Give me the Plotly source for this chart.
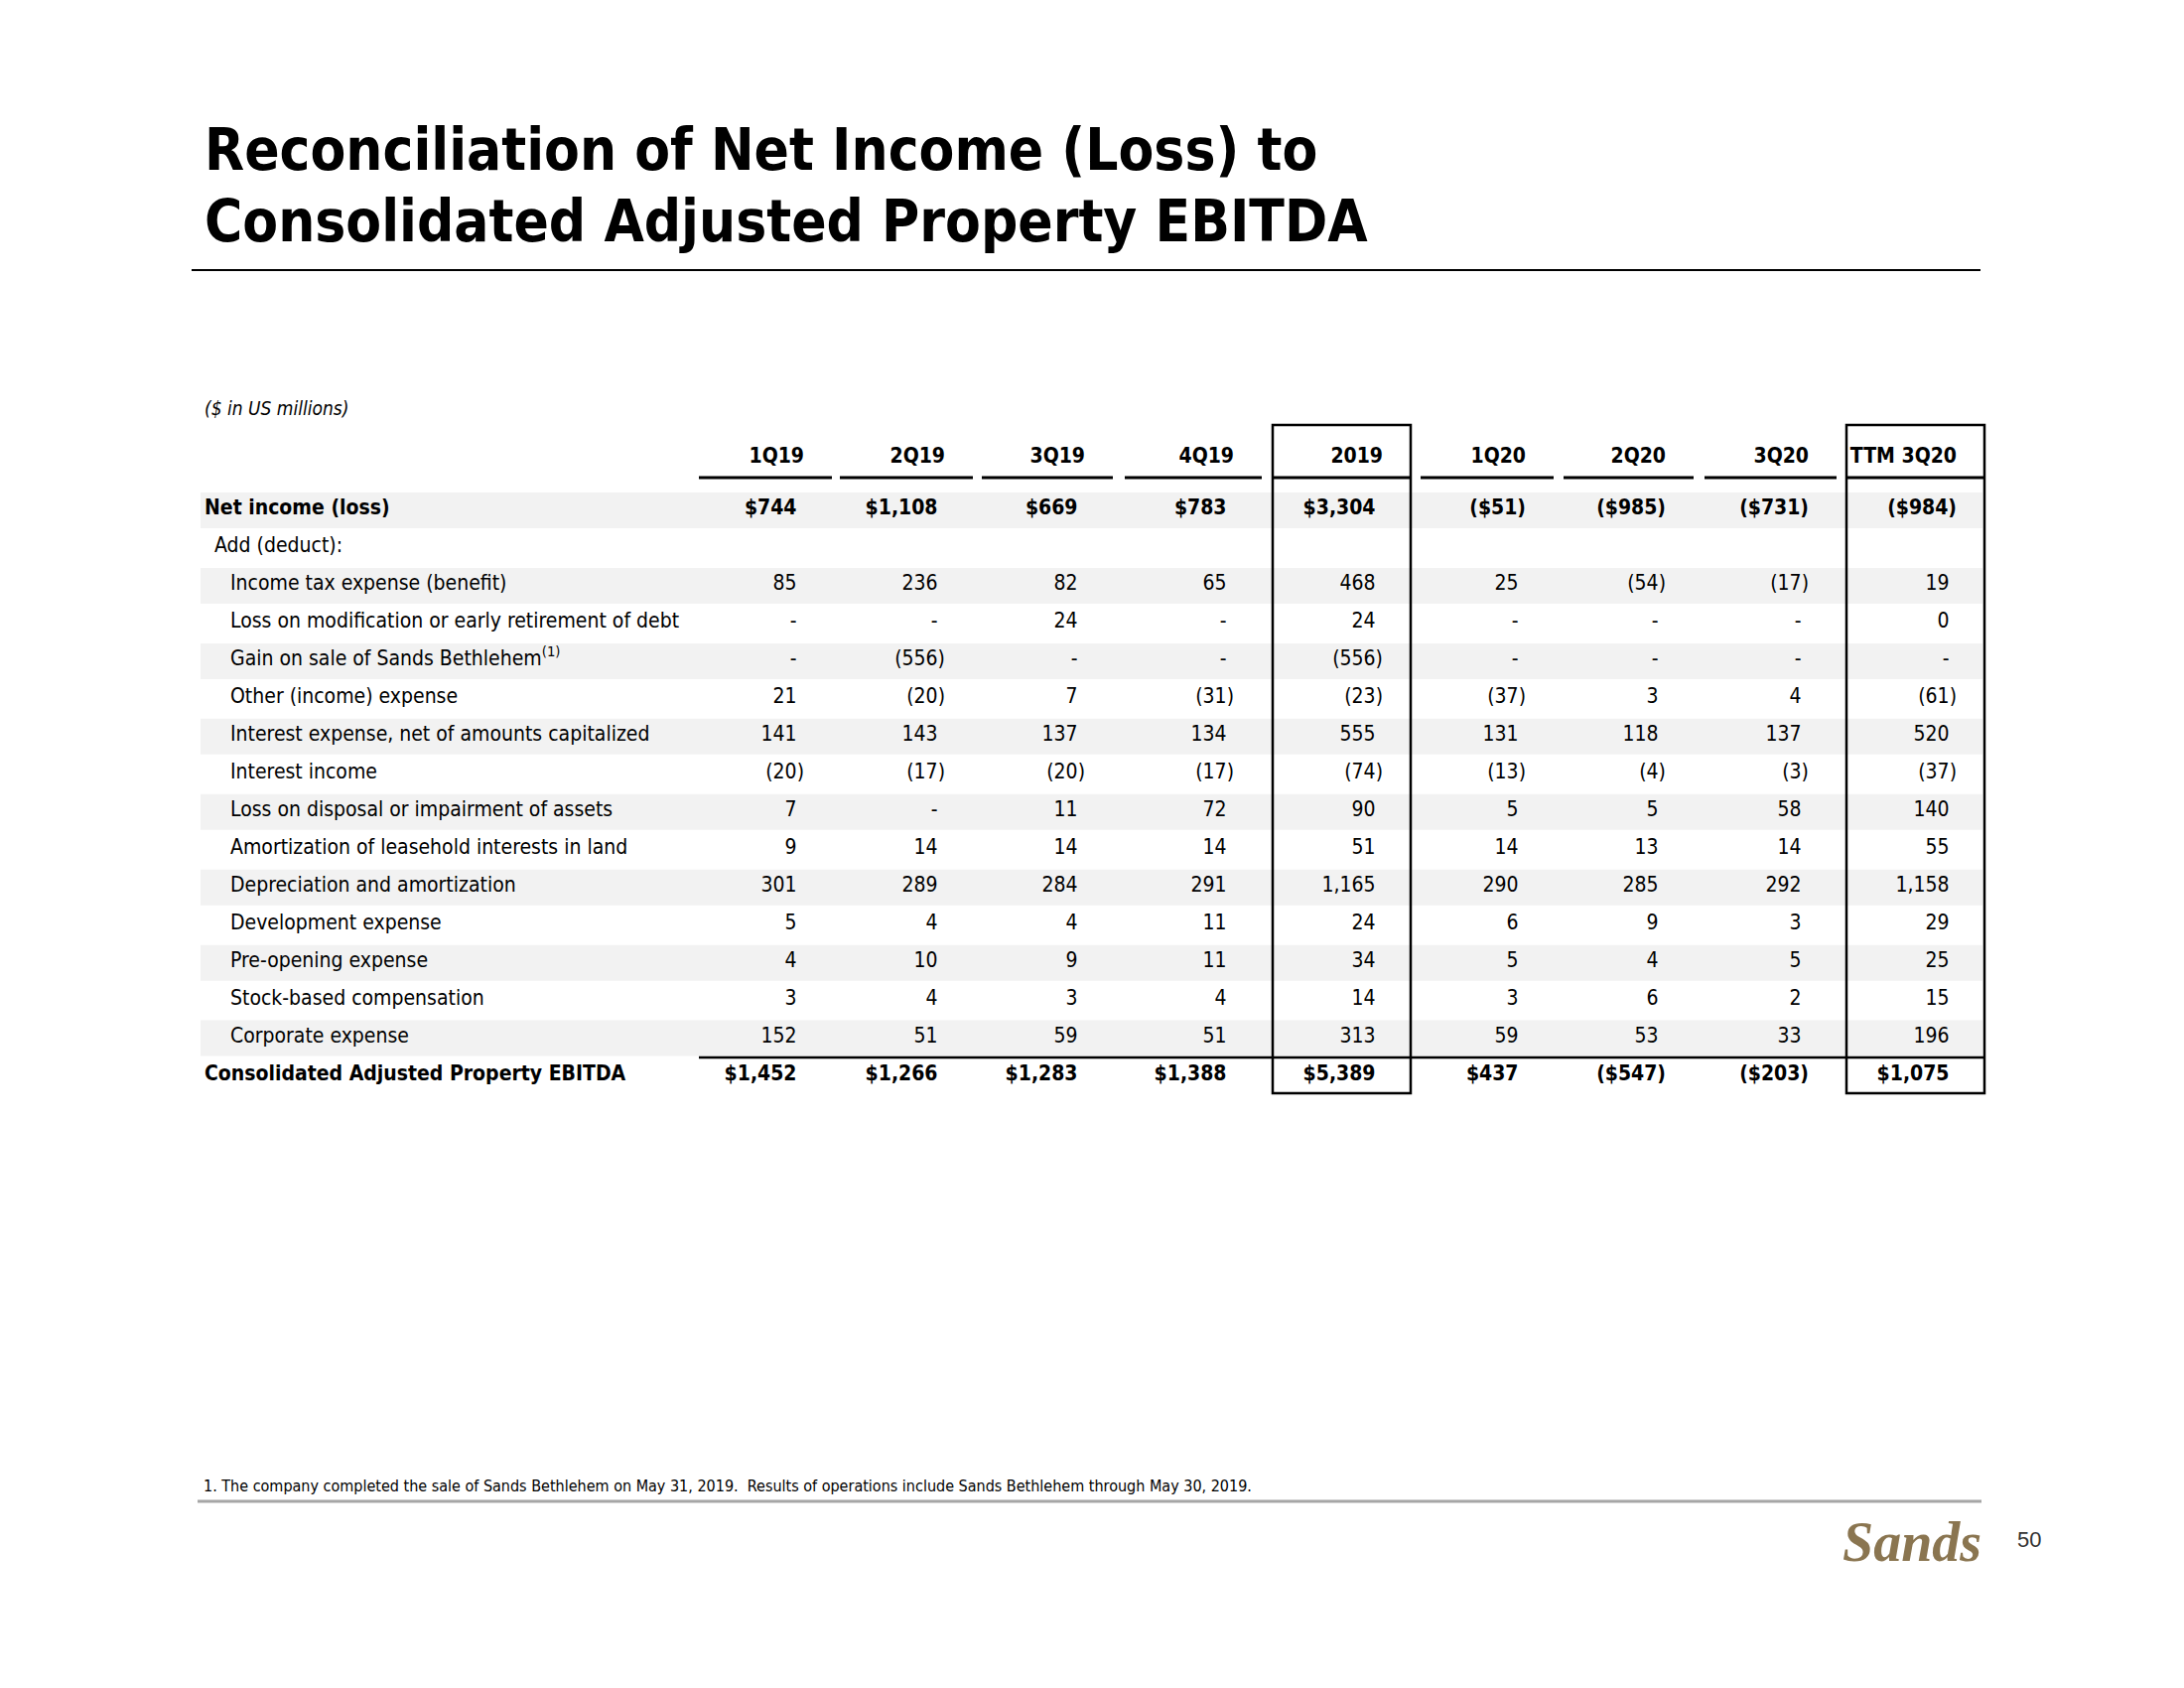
import plotly.graph_objects as go

# ---------------- data ----------------
columns = ["1Q19", "2Q19", "3Q19", "4Q19", "2019", "1Q20", "2Q20", "3Q20", "TTM 3Q20"]

row_labels = [
    "Net income (loss)",
    "Add (deduct):",
    "Income tax expense (benefit)",
    "Loss on modification or early retirement of debt",
    "Gain on sale of Sands Bethlehem<sup>(1)</sup>",
    "Other (income) expense",
    "Interest expense, net of amounts capitalized",
    "Interest income",
    "Loss on disposal or impairment of assets",
    "Amortization of leasehold interests in land",
    "Depreciation and amortization",
    "Development expense",
    "Pre-opening expense",
    "Stock-based compensation",
    "Corporate expense",
    "Consolidated Adjusted Property EBITDA",
]
row_kind = ["total", "section"] + ["item"] * 13 + ["total"]
row_indent = [0, 1] + [2] * 13 + [0]

net_income = [744, 1108, 669, 783, 3304, -51, -985, -731, -984]
add_deduct = [None] * 9
income_tax = [85, 236, 82, 65, 468, 25, -54, -17, 19]
loss_modification = [None, None, 24, None, 24, None, None, None, 0]
gain_bethlehem = [None, -556, None, None, -556, None, None, None, None]
other_income = [21, -20, 7, -31, -23, -37, 3, 4, -61]
interest_expense = [141, 143, 137, 134, 555, 131, 118, 137, 520]
interest_income = [-20, -17, -20, -17, -74, -13, -4, -3, -37]
loss_disposal = [7, None, 11, 72, 90, 5, 5, 58, 140]
amort_leasehold = [9, 14, 14, 14, 51, 14, 13, 14, 55]
depreciation = [301, 289, 284, 291, 1165, 290, 285, 292, 1158]
development = [5, 4, 4, 11, 24, 6, 9, 3, 29]
pre_opening = [4, 10, 9, 11, 34, 5, 4, 5, 25]
stock_comp = [3, 4, 3, 4, 14, 3, 6, 2, 15]
corporate = [152, 51, 59, 51, 313, 59, 53, 33, 196]
ebitda = [1452, 1266, 1283, 1388, 5389, 437, -547, -203, 1075]

row_values = [net_income, add_deduct, income_tax, loss_modification, gain_bethlehem,
              other_income, interest_expense, interest_income, loss_disposal,
              amort_leasehold, depreciation, development, pre_opening, stock_comp,
              corporate, ebitda]

boxed_columns = ["2019", "TTM 3Q20"]

title_lines = ["Reconciliation of Net Income (Loss) to", "Consolidated Adjusted Property EBITDA"]
units_note = "($ in US millions)"
footnote = ("1. The company completed the sale of Sands Bethlehem on May 31, 2019.  "
            "Results of operations include Sands Bethlehem through May 30, 2019.")
page_number = "50"

# ---------------- layout constants ----------------
PAGE_MARGIN = 8          # default body margin of the html page
W, H = 2200, 1700
NARROW = "Liberation Sans Narrow, Arial Narrow, DejaVu Sans Condensed, sans-serif"
SANS = "Liberation Sans, Arial, sans-serif"
col_left = [704, 846, 989, 1133, 1282, 1431, 1575, 1717, 1860]
col_right = [838, 980, 1121, 1271, 1421, 1565, 1706, 1850, 1999]
neg_pad, pos_pad = 28, 35.5
row_y0, row_pitch = 513, 37.97
header_y = 461
indent_x = [206, 216, 232]
BODY = 21
SHADE = "#F2F2F2"


def fmt(v, dollar):
    if v is None:
        return "-"
    s = f"{abs(v):,}"
    if dollar:
        s = "$" + s
    return f"({s})" if v < 0 else s


fig = go.Figure()
shapes = []

row_y = [row_y0 + i * row_pitch for i in range(len(row_labels))]

# shading bands
for i, y in enumerate(row_y):
    if i % 2 == 0 and i < len(row_labels) - 1:
        shapes.append(dict(type="rect", xref="x", yref="y", x0=202, x1=1997,
                           y0=y - 17, y1=y + 19, fillcolor=SHADE, line=dict(width=0),
                           layer="below"))

# labels
for kind in ["total", "other"]:
    xs, ys, ts = [], [], []
    for i, lab in enumerate(row_labels):
        if (row_kind[i] == "total") != (kind == "total"):
            continue
        xs.append(indent_x[row_indent[i]])
        ys.append(row_y[i])
        ts.append(f"<b>{lab}</b>" if kind == "total" else lab)
    fig.add_trace(go.Scatter(x=xs, y=ys, text=ts, mode="text", textposition="middle right",
                             textfont=dict(family=NARROW, size=BODY, color="#000000"),
                             hoverinfo="skip", showlegend=False))

# values
for kind in ["total", "item"]:
    xs, ys, ts = [], [], []
    for i, vals in enumerate(row_values):
        if row_kind[i] != kind:
            continue
        for j, v in enumerate(vals):
            xs.append(col_right[j] - (neg_pad if (v is not None and v < 0) else pos_pad))
            ys.append(row_y[i])
            t = fmt(v, kind == "total")
            ts.append(f"<b>{t}</b>" if kind == "total" else t)
    fig.add_trace(go.Scatter(x=xs, y=ys, text=ts, mode="text", textposition="middle left",
                             textfont=dict(family=NARROW, size=BODY, color="#000000"),
                             hoverinfo="skip", showlegend=False))

# headers
fig.add_trace(go.Scatter(x=[r - neg_pad for r in col_right], y=[header_y] * len(columns),
                         text=[f"<b>{c}</b>" for c in columns], mode="text",
                         textposition="middle left",
                         textfont=dict(family=NARROW, size=BODY, color="#000000"),
                         hoverinfo="skip", showlegend=False))

# header underlines
for l, r in zip(col_left, col_right):
    shapes.append(dict(type="line", xref="x", yref="y", x0=l, x1=r, y0=481, y1=481,
                       line=dict(color="#000000", width=3)))

# total line
shapes.append(dict(type="line", xref="x", yref="y", x0=col_left[0], x1=col_right[-1],
                   y0=1065, y1=1065, line=dict(color="#000000", width=2.5)))

# boxes
for c in boxed_columns:
    j = columns.index(c)
    shapes.append(dict(type="rect", xref="x", yref="y", x0=col_left[j], x1=col_right[j],
                       y0=428, y1=1101, line=dict(color="#000000", width=2.5),
                       fillcolor="rgba(0,0,0,0)"))

# title rule and footnote rule
shapes.append(dict(type="line", xref="x", yref="y", x0=193, x1=1995, y0=272, y1=272,
                   line=dict(color="#000000", width=2)))
shapes.append(dict(type="line", xref="x", yref="y", x0=199, x1=1996, y0=1512, y1=1512,
                   line=dict(color="#A6A6A6", width=3)))

annotations = []
for k, line in enumerate(title_lines):
    annotations.append(dict(x=204, y=151 + 72 * k, xref="x", yref="y", text=f"<b>{line}</b>",
                            showarrow=False, xanchor="left", yanchor="middle",
                            font=dict(family=NARROW, size=58, color="#000000")))
annotations.append(dict(x=204, y=411, xref="x", yref="y", text=f"<i>{units_note}</i>",
                        showarrow=False, xanchor="left", yanchor="middle",
                        font=dict(family=NARROW, size=19, color="#000000")))
annotations.append(dict(x=203, y=1496, xref="x", yref="y", text=footnote,
                        showarrow=False, xanchor="left", yanchor="middle",
                        font=dict(family=NARROW, size=16, color="#000000")))
annotations.append(dict(x=1926, y=1553, xref="x", yref="y", text="<b><i>Sands</i></b>",
                        showarrow=False, xanchor="center", yanchor="middle",
                        font=dict(family="Liberation Serif, DejaVu Serif, serif", size=56,
                                  color="#8A7550")))
annotations.append(dict(x=2044, y=1550, xref="x", yref="y", text=page_number,
                        showarrow=False, xanchor="center", yanchor="middle",
                        font=dict(family=SANS, size=22, color="#333333")))

fig.update_layout(
    width=W - 2 * PAGE_MARGIN, height=H - 2 * PAGE_MARGIN,
    margin=dict(l=0, r=0, t=0, b=0),
    paper_bgcolor="#FFFFFF", plot_bgcolor="#FFFFFF",
    xaxis=dict(range=[PAGE_MARGIN, W - PAGE_MARGIN], visible=False, fixedrange=True),
    yaxis=dict(range=[H - PAGE_MARGIN, PAGE_MARGIN], visible=False, fixedrange=True),
    shapes=shapes, annotations=annotations, showlegend=False,
)

fig.write_html("out.html")
